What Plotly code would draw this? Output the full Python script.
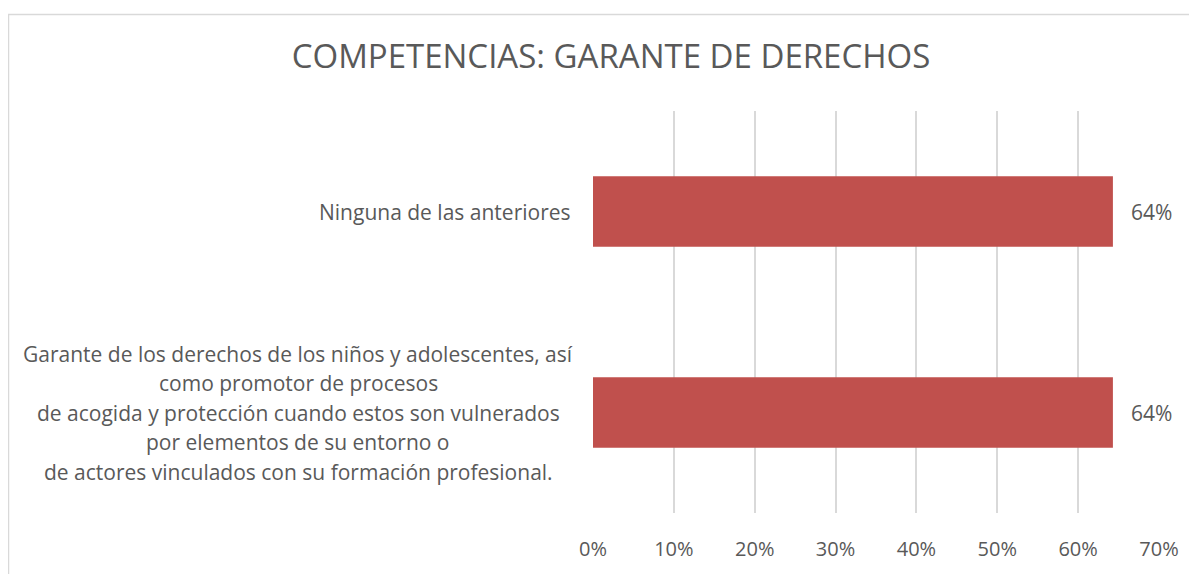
import plotly.graph_objects as go

categories = [
    "Garante de los derechos de los niños y adolescentes, así<br>como promotor de procesos<br>de acogida y protección cuando estos son vulnerados<br>por elementos de su entorno o<br>de actores vinculados con su formación profesional.",
    "Ninguna de las anteriores",
]
values = [0.643, 0.643]
tick_vals = [0, 0.1, 0.2, 0.3, 0.4, 0.5, 0.6, 0.7]
tick_text = ["0%", "10%", "20%", "30%", "40%", "50%", "60%", "70%"]
title_text = "COMPETENCIAS: GARANTE DE DERECHOS"

FONT = "Open Sans"
GREY = "#595959"
BAR = "#C0504D"
GRID = "#D9D9D9"

# page body has an 8px margin; figure pixel coords = screen coords - 8
W, H = 1189, 566
L, R, T, B = 585, 38, 102.5, 53.5
pw, ph = W - L - R, H - T - B


def px(xp):
    return (xp - L) / pw


def py(yp):
    return (H - B - yp) / ph


fig = go.Figure()
fig.add_trace(go.Bar(
    x=values, y=categories, orientation="h",
    marker=dict(color=BAR, line=dict(width=0)),
    hoverinfo="skip",
))

annotations = []
LINE = 29.5
for c, v in zip(categories, values):
    lines = c.split("<br>")
    if len(lines) == 1:
        annotations.append(dict(
            x=px(565), y=c, xref="paper", yref="y", text=c, showarrow=False,
            xanchor="right", yanchor="middle",
            font=dict(family=FONT, size=21, color=GREY),
        ))
    else:
        n = len(lines)
        for i, ln in enumerate(lines):
            annotations.append(dict(
                x=px(290), y=c, xref="paper", yref="y", text=ln, showarrow=False,
                xanchor="center", yanchor="middle",
                yshift=((n - 1) / 2 - i) * LINE,
                font=dict(family=FONT, size=21, color=GREY),
            ))
    annotations.append(dict(
        x=v, y=c, xref="x", yref="y", text=f"{round(v * 100)}%", showarrow=False,
        xanchor="left", yanchor="middle", xshift=16,
        font=dict(family=FONT, size=21, color=GREY),
    ))

shapes = [
    dict(type="line", xref="paper", yref="paper", x0=px(0), x1=px(1220), y0=py(4), y1=py(4),
         line=dict(color=GRID, width=1.5)),
    dict(type="line", xref="paper", yref="paper", x0=px(0.5), x1=px(0.5), y0=py(4), y1=py(600),
         line=dict(color=GRID, width=1.5)),
]

fig.update_layout(
    width=W, height=H,
    margin=dict(l=L, r=R, t=T, b=B, pad=0),
    paper_bgcolor="white", plot_bgcolor="white",
    bargap=0.649,
    showlegend=False,
    title=dict(text=title_text, x=603 / W, xref="container", xanchor="center",
               y=1 - 48 / H, yref="container", yanchor="middle",
               font=dict(family=FONT, size=33, color=GREY)),
    xaxis=dict(range=[0, 0.7], tickvals=tick_vals, ticktext=tick_text,
               showgrid=True, gridcolor=GRID, gridwidth=1.6,
               zeroline=False, showline=False, ticks="",
               tickfont=dict(family=FONT, size=20, color=GREY), ticklabelstandoff=22),
    yaxis=dict(showticklabels=False, showgrid=False, zeroline=False, showline=False,
               categoryorder="array", categoryarray=categories),
    annotations=annotations,
    shapes=shapes,
)

fig.write_html("out.html")
